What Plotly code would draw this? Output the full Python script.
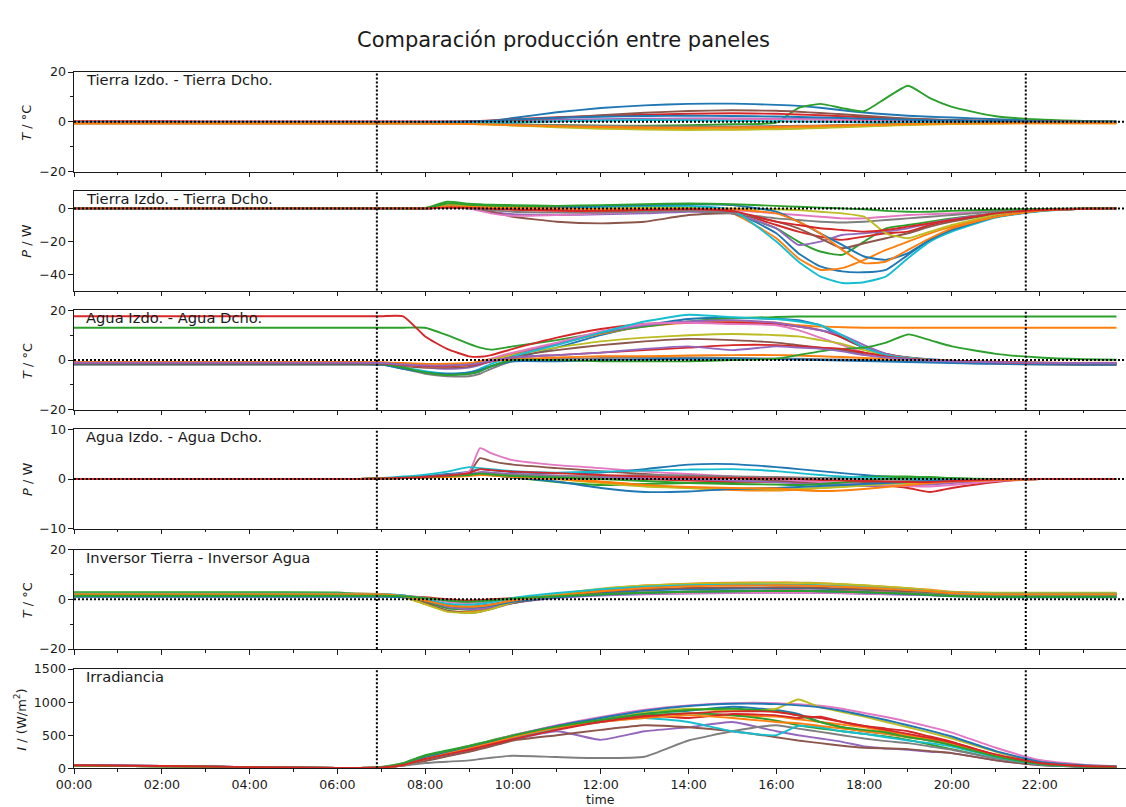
import plotly.graph_objects as go

# Sample times (HH:MM) shared by every series
TIME = ["00:00", "02:00", "04:00", "06:00", "06:30",
        "07:00", "07:30", "08:00", "08:30", "09:00", "09:15", "09:30", "10:00",
        "11:00", "12:00", "13:00", "14:00", "15:00",
        "16:00", "16:30", "17:00", "17:30", "18:00", "18:30", "19:00", "19:30", "20:00",
        "21:00", "22:00", "23:00", "23:45"]

SUNRISE = "06:54"
SUNSET = "21:41"

# Tierra Izdo. - Tierra Dcho. : temperature difference (°C), one list per day
TIERRA_T = [
    [-0.3, -0.3, -0.4, -0.4, -0.4, -0.4, -0.3, -0.2, -0.1, 0.0, 0.1, 0.3, 1.5, 3.8, 5.5, 6.6, 7.2, 7.3, 6.8, 6.4, 5.6, 4.6, 3.7, 3.0, 2.4, 2.0, 1.7, 1.0, 0.4, 0.1, 0.0],
    [-0.5, -0.5, -0.6, -0.6, -0.6, -0.6, -0.6, -0.6, -0.6, -0.6, -0.7, -0.8, -1.2, -1.8, -2.3, -2.7, -2.9, -3.0, -2.8, -2.6, -2.3, -2.0, -1.7, -1.4, -1.1, -0.9, -0.8, -0.6, -0.5, -0.5, -0.5],
    [-0.6, -0.6, -0.6, -0.7, -0.7, -0.7, -0.7, -0.7, -0.7, -0.7, -0.8, -0.8, -1.0, -1.3, -1.6, -1.6, -1.4, -1.0, -0.3, 5.5, 7.2, 5.5, 4.2, 9.5, 14.5, 9.5, 6.0, 2.2, 0.9, 0.3, 0.1],
    [0.2, 0.2, 0.1, 0.1, 0.1, 0.1, 0.1, 0.1, 0.1, 0.2, 0.3, 0.5, 1.0, 1.8, 2.4, 2.8, 3.2, 3.4, 3.2, 2.9, 2.6, 2.2, 1.8, 1.4, 1.0, 0.8, 0.6, 0.3, 0.1, 0.0, 0.0],
    [-0.2, -0.2, -0.2, -0.3, -0.3, -0.3, -0.3, -0.3, -0.3, -0.2, -0.1, 0.0, 0.4, 0.8, 1.0, 1.2, 1.3, 1.3, 1.2, 1.1, 1.0, 0.9, 0.8, 0.6, 0.5, 0.4, 0.3, 0.1, 0.0, -0.1, -0.1],
    [-0.4, -0.4, -0.4, -0.4, -0.4, -0.4, -0.4, -0.3, -0.3, -0.2, 0.0, 0.1, 0.6, 1.5, 2.6, 3.6, 4.3, 4.6, 4.4, 4.0, 3.5, 3.0, 2.4, 1.8, 1.3, 1.0, 0.7, 0.4, 0.2, 0.0, -0.1],
    [-0.8, -0.8, -0.8, -0.8, -0.8, -0.8, -0.8, -0.8, -0.8, -0.8, -0.7, -0.6, -0.3, 0.2, 0.5, 0.8, 1.0, 1.1, 1.0, 0.9, 0.8, 0.7, 0.6, 0.5, 0.4, 0.3, 0.2, 0.0, -0.2, -0.4, -0.5],
    [-0.5, -0.5, -0.5, -0.6, -0.6, -0.6, -0.6, -0.6, -0.6, -0.7, -0.8, -0.9, -1.1, -1.4, -1.6, -1.8, -1.9, -1.9, -1.7, -1.6, -1.5, -1.3, -1.1, -0.9, -0.8, -0.7, -0.6, -0.5, -0.5, -0.5, -0.5],
    [-0.7, -0.7, -0.7, -0.7, -0.7, -0.7, -0.7, -0.7, -0.8, -0.9, -1.0, -1.1, -1.5, -2.2, -2.8, -3.1, -3.3, -3.2, -3.0, -2.8, -2.5, -2.2, -1.9, -1.6, -1.3, -1.1, -0.9, -0.7, -0.6, -0.6, -0.6],
    [-0.3, -0.3, -0.3, -0.3, -0.3, -0.3, -0.3, -0.3, -0.3, -0.3, -0.3, -0.3, -0.2, 0.2, 0.5, 0.7, 0.6, 0.4, 0.2, 0.1, 0.0, -0.1, -0.2, -0.2, -0.3, -0.3, -0.3, -0.3, -0.3, -0.3, -0.3],
    [-0.1, -0.1, -0.1, -0.1, -0.1, -0.1, -0.1, -0.1, 0.0, 0.1, 0.2, 0.4, 0.9, 1.6, 2.0, 2.3, 2.4, 2.3, 2.1, 1.9, 1.7, 1.5, 1.2, 1.0, 0.8, 0.6, 0.5, 0.3, 0.1, 0.0, 0.0],
    [-0.6, -0.6, -0.6, -0.6, -0.6, -0.6, -0.6, -0.7, -0.8, -0.9, -1.0, -1.1, -1.4, -1.8, -2.1, -2.3, -2.4, -2.3, -2.1, -1.9, -1.7, -1.5, -1.3, -1.1, -0.9, -0.8, -0.7, -0.6, -0.6, -0.6, -0.6],
]

# Tierra Izdo. - Tierra Dcho. : power difference (W)
TIERRA_P = [
    [0, 0, 0, 0, 0, 0, 0, 0, 1.5, 1.2, 1.0, 0.8, 0.5, 0.3, 0.2, 0.0, -0.5, -2.0, -15, -27, -35, -38, -38.5, -37, -28, -19, -13, -5, -1.5, -0.3, 0],
    [0, 0, 0, 0, 0, 0, 0, 0, 2.0, 1.8, 1.5, 1.2, 1.0, 0.5, 0.3, 0.0, -0.5, -3.0, -18, -30, -37, -36, -31, -25, -20, -15, -11, -4.5, -1.5, -0.3, 0],
    [0, 0, 0, 0, 0, 0, 0, 0.2, 4.0, 2.8, 2.5, 2.2, 2.0, 1.5, 1.2, 1.0, 0.5, -3.0, -12, -20, -26, -28, -20, -12, -10, -8, -6, -3, -1, -0.2, 0],
    [0, 0, 0, 0, 0, 0, 0, 0, 0.8, 0.5, 0.2, 0.0, -0.5, -1.0, -1.5, -1.5, -1.2, -2.0, -10, -14, -17, -19, -17, -15, -14, -10, -7, -3, -1, -0.2, 0],
    [0, 0, 0, 0, 0, 0, 0, 0, 0.5, 0.0, -1.0, -2.0, -3.5, -4.0, -3.5, -3.0, -2.0, -3.0, -12, -22, -20, -16, -15, -14, -12, -9, -6.5, -3, -1, -0.2, 0],
    [0, 0, 0, 0, 0, 0, 0, 0, 0.5, 0.0, -1.0, -2.0, -5.0, -8.0, -9.0, -8.0, -4.0, -3.0, -8, -12, -18, -24, -21, -18, -15, -11, -8, -3.5, -1, -0.2, 0],
    [0, 0, 0, 0, 0, 0, 0, 0, 1.0, 0.0, -1.5, -3.0, -4.5, -4.0, -3.0, -2.0, -1.0, -1.0, -3, -4, -5, -6, -6, -5, -4, -3.5, -3, -1.5, -0.5, -0.1, 0],
    [0, 0, 0, 0, 0, 0, 0, 0, 0.5, 0.0, -0.5, -1.0, -2.0, -2.5, -2.5, -2.0, -1.5, -3.0, -6, -7, -8, -8.5, -8, -7, -6, -5, -4, -2, -0.7, -0.1, 0],
    [0, 0, 0, 0, 0, 0, 0, 0, 1.5, 1.2, 1.0, 0.8, 0.6, 0.4, 0.3, 0.3, 0.2, 0.0, -0.5, -1, -2, -3, -5, -15, -18, -14, -10, -4, -1.2, -0.2, 0],
    [0, 0, 0, 0, 0, 0, 0, 0, 1.0, 0.8, 0.6, 0.5, 0.3, 0.5, 1.0, 1.5, 1.5, -1.0, -20, -32, -41, -45, -44.5, -41, -30, -20, -14, -5.5, -1.8, -0.3, 0],
    [0, 0, 0, 0, 0, 0, 0, 0, 1.0, 0.8, 0.6, 0.5, 0.4, 0.8, 1.5, 2.0, 2.5, 2.0, -2, -8, -15, -22, -29, -31, -27, -19, -13, -5, -1.5, -0.3, 0],
    [0, 0, 0, 0, 0, 0, 0, 0, 1.2, 1.0, 0.8, 0.6, 0.3, 0.0, -0.5, -0.5, -0.3, -0.5, -3, -8, -15, -25, -33, -32, -25, -18, -12, -5, -1.5, -0.3, 0],
    [0, 0, 0, 0, 0, 0, 0, 0, 3.0, 2.2, 2.0, 1.8, 1.5, 1.5, 2.0, 2.5, 3.0, 2.5, 1.5, 1.0, 0.5, 0, -0.5, -1.5, -2, -2, -1.5, -0.8, -0.3, 0, 0],
    [0, 0, 0, 0, 0, 0, 0, 0, 0.5, 0.3, 0.0, -0.3, -0.8, -1.5, -1.5, -1.0, -0.5, -1.5, -8, -10, -12, -13, -14, -13, -11, -9, -7, -3, -1, -0.2, 0],
]

# Agua Izdo. - Agua Dcho. : temperature difference (°C)
AGUA_T = [
    [-1.5, -1.5, -1.5, -1.5, -1.5, -1.6, -3.0, -5.0, -6.0, -5.5, -4.5, -2.5, 0.5, 5.0, 10.0, 14.0, 16.5, 17.0, 16.5, 16.0, 14.0, 9.0, 5.0, 2.5, 1.0, 0.3, -0.3, -0.8, -1.1, -1.3, -1.4],
    [-1.0, -1.0, -1.0, -1.0, -1.0, -1.1, -1.5, -2.0, -2.0, -1.5, -0.5, 0.5, 2.5, 6.5, 10.5, 13.5, 15.0, 15.5, 15.0, 14.0, 13.5, 13.2, 13.0, 13.0, 13.0, 13.0, 13.0, 13.0, 13.0, 13.0, 13.0],
    [13.0, 13.0, 13.0, 13.0, 13.0, 13.0, 13.0, 13.0, 10.0, 6.5, 5.0, 4.2, 5.5, 8.0, 11.0, 13.5, 15.5, 16.8, 17.3, 17.5, 17.5, 17.5, 17.5, 17.5, 17.5, 17.5, 17.5, 17.5, 17.5, 17.5, 17.5],
    [17.6, 17.6, 17.6, 17.6, 17.6, 17.6, 17.6, 9.5, 4.5, 1.5, 1.3, 2.0, 4.5, 9.0, 12.5, 14.5, 15.0, 15.0, 14.5, 13.5, 12.0, 9.0, 5.0, 2.5, 1.0, 0.0, -0.5, -1.0, -1.3, -1.5, -1.5],
    [-1.2, -1.2, -1.2, -1.2, -1.2, -1.3, -2.0, -3.0, -3.5, -3.0, -2.0, -0.5, 2.0, 6.5, 11.0, 14.0, 15.5, 16.0, 15.0, 13.5, 12.0, 10.0, 6.0, 2.5, 0.8, 0.0, -0.5, -1.0, -1.2, -1.3, -1.3],
    [-1.8, -1.8, -1.8, -1.8, -1.8, -1.9, -2.5, -3.0, -3.0, -2.5, -1.5, -0.5, 1.5, 4.0, 6.0, 7.5, 8.5, 8.0, 7.0, 6.0, 5.0, 4.0, 2.5, 1.5, 0.5, 0.0, -0.5, -1.2, -1.6, -1.8, -1.8],
    [-1.0, -1.0, -1.0, -1.0, -1.0, -1.1, -2.0, -2.5, -2.5, -2.0, -1.0, 0.5, 3.0, 7.0, 11.5, 14.5, 15.0, 14.5, 14.0, 12.0, 9.0, 6.0, 3.0, 1.0, 0.2, -0.3, -0.6, -1.0, -1.2, -1.3, -1.3],
    [-1.5, -1.5, -1.5, -1.5, -1.5, -1.7, -3.5, -5.5, -6.5, -6.5, -5.5, -3.5, -0.5, 0.5, 0.8, 1.0, 1.0, 0.8, 0.6, 0.5, 0.3, 0.2, 0.0, -0.2, -0.5, -0.7, -1.0, -1.5, -1.8, -2.0, -2.0],
    [-1.3, -1.3, -1.3, -1.3, -1.3, -1.4, -2.0, -2.5, -2.5, -2.0, -1.0, 0.0, 2.0, 5.0, 7.5, 9.0, 10.0, 10.5, 10.0, 9.5, 8.0, 6.5, 4.0, 2.0, 0.8, 0.0, -0.5, -1.0, -1.3, -1.4, -1.4],
    [-1.6, -1.6, -1.6, -1.6, -1.6, -1.7, -3.0, -4.5, -5.5, -5.0, -3.5, -1.5, 1.5, 6.0, 11.0, 15.5, 18.2, 17.2, 16.5, 15.5, 14.0, 10.0, 5.0, 2.0, 0.8, 0.0, -0.5, -1.0, -1.3, -1.5, -1.5],
    [-1.7, -1.7, -1.7, -1.7, -1.7, -1.8, -3.5, -5.0, -5.5, -5.0, -4.0, -2.5, -0.5, -0.5, 0.0, 0.3, 0.5, 0.5, 0.3, 0.2, 0.0, -0.2, -0.4, -0.6, -0.8, -1.0, -1.2, -1.5, -1.7, -1.8, -1.8],
    [-0.8, -0.8, -0.8, -0.8, -0.8, -0.9, -1.2, -1.5, -1.5, -1.2, -0.8, -0.3, 0.3, 1.0, 1.5, 1.5, 1.8, 2.0, 2.0, 1.8, 1.5, 1.2, 0.8, 0.5, 0.2, 0.0, -0.3, -0.7, -1.0, -1.1, -1.1],
    [-1.4, -1.4, -1.4, -1.4, -1.4, -1.5, -3.0, -5.0, -6.0, -5.5, -4.5, -2.5, 0.0, 0.0, -0.5, -0.5, -0.5, 0.0, 0.5, 2.0, 3.5, 4.5, 5.0, 7.0, 10.3, 8.0, 5.5, 2.5, 1.0, 0.3, 0.1],
    [-1.3, -1.3, -1.3, -1.3, -1.3, -1.4, -2.0, -2.5, -2.5, -2.0, -1.5, -0.5, 1.0, 2.0, 3.0, 4.0, 5.0, 6.0, 6.0, 5.5, 5.0, 4.5, 3.0, 1.5, 0.5, 0.0, -0.4, -0.9, -1.2, -1.3, -1.3],
    [-1.1, -1.1, -1.1, -1.1, -1.1, -1.2, -1.8, -2.2, -2.2, -1.8, -1.2, -0.3, 1.0, 2.0, 3.0, 4.5, 5.5, 4.0, 5.5, 5.0, 4.5, 3.5, 2.0, 1.0, 0.3, -0.2, -0.5, -0.9, -1.1, -1.2, -1.2],
]

# Agua Izdo. - Agua Dcho. : power difference (W)
AGUA_P = [
    [0, 0, 0, 0, 0, 0.1, 0.3, 0.6, 1.0, 1.5, 2.0, 1.8, 1.4, 1.2, 1.3, 2.0, 2.9, 3.0, 2.4, 2.0, 1.6, 1.2, 0.8, 0.5, 0.3, 0.1, 0.0, -0.1, 0, 0, 0],
    [0, 0, 0, 0, 0, 0.1, 0.2, 0.4, 0.6, 0.9, 1.2, 1.0, 0.6, 0.2, -0.5, -1.2, -1.8, -2.2, -2.3, -2.1, -1.8, -1.5, -1.2, -0.9, -0.7, -0.5, -0.4, -0.2, 0, 0, 0],
    [0, 0, 0, 0, 0, 0.1, 0.2, 0.3, 0.5, 0.8, 1.0, 0.8, 0.3, -0.6, -1.2, -1.0, -0.8, -0.6, -0.4, -0.2, 0.0, 0.2, 0.4, 0.5, 0.5, 0.3, 0.1, 0, 0, 0, 0],
    [0, 0, 0, 0, 0, 0.1, 0.2, 0.4, 0.6, 0.9, 1.2, 1.1, 0.9, 0.6, 0.3, 0.0, -0.3, -0.5, -0.6, -0.7, -0.8, -0.9, -1.0, -1.3, -1.8, -2.6, -1.8, -0.6, 0, 0, 0],
    [0, 0, 0, 0, 0, 0.1, 0.2, 0.4, 0.7, 1.0, 1.4, 1.3, 1.0, 0.7, 0.4, 0.2, 0.0, -0.3, -0.6, -0.9, -1.1, -1.3, -1.4, -1.4, -1.3, -1.1, -0.8, -0.3, 0, 0, 0],
    [0, 0, 0, 0, 0, 0.1, 0.3, 0.5, 0.8, 1.3, 4.2, 3.6, 2.9, 2.2, 1.6, 1.0, 0.5, 0.2, -0.3, -0.5, -0.7, -0.8, -0.8, -0.7, -0.6, -0.5, -0.3, -0.1, 0, 0, 0],
    [0, 0, 0, 0, 0, 0.1, 0.3, 0.5, 0.8, 1.5, 6.2, 5.2, 3.8, 2.8, 2.2, 1.5, 1.0, 0.5, 0.0, -0.3, -0.6, -0.8, -1.0, -1.2, -1.4, -1.5, -1.2, -0.4, 0, 0, 0],
    [0, 0, 0, 0, 0, 0.1, 0.2, 0.4, 0.6, 0.9, 1.2, 1.0, 0.8, 0.5, 0.6, 0.8, 0.7, 0.5, 0.4, 0.3, 0.2, 0.1, 0.0, -0.1, -0.2, -0.2, -0.2, -0.1, 0, 0, 0],
    [0, 0, 0, 0, 0, 0.1, 0.2, 0.3, 0.5, 0.7, 0.9, 0.8, 0.5, 0.0, -0.8, -1.5, -1.8, -2.0, -2.1, -2.0, -1.8, -1.6, -1.3, -1.0, -0.8, -0.6, -0.4, -0.2, 0, 0, 0],
    [0, 0, 0, 0, 0, 0.2, 0.5, 0.9, 1.5, 2.4, 2.2, 2.0, 1.6, 1.3, 1.5, 1.7, 1.9, 2.0, 1.6, 1.2, 0.8, 0.5, 0.3, 0.1, 0.0, -0.1, -0.1, 0, 0, 0, 0],
    [0, 0, 0, 0, 0, 0.1, 0.3, 0.5, 0.8, 1.0, 1.0, 0.8, 0.3, -0.5, -1.8, -2.6, -2.5, -2.0, -1.8, -1.6, -1.4, -1.2, -1.0, -0.8, -0.6, -0.4, -0.2, 0, 0, 0, 0],
    [0, 0, 0, 0, 0, 0.1, 0.2, 0.3, 0.4, 0.6, 0.8, 0.7, 0.4, 0.0, -0.6, -1.2, -1.6, -1.8, -1.9, -2.2, -2.4, -2.3, -2.0, -1.6, -1.2, -0.8, -0.5, -0.2, 0, 0, 0],
    [0, 0, 0, 0, 0, 0.1, 0.2, 0.4, 0.6, 0.8, 1.1, 0.9, 0.6, 0.3, 0.0, -0.4, -0.8, -1.0, -1.1, -1.2, -1.0, -0.7, -0.3, 0.0, 0.3, 0.4, 0.2, 0, 0, 0, 0],
    [0, 0, 0, 0, 0, 0.1, 0.2, 0.4, 0.7, 1.2, 2.0, 1.8, 1.5, 1.2, 0.8, 0.5, 0.3, 0.2, 0.1, 0.0, -0.2, -0.3, -0.4, -0.5, -0.6, -0.6, -0.4, -0.1, 0, 0, 0],
]

# Inversor Tierra - Inversor Agua : temperature difference (°C)
INVERSOR_T = [
    [1.5, 1.5, 1.5, 1.5, 1.5, 1.5, 1.0, -1.0, -3.5, -4.0, -3.5, -3.0, -1.5, 1.0, 2.5, 3.5, 4.0, 4.2, 4.3, 4.3, 4.2, 4.0, 3.8, 3.5, 3.2, 2.8, 2.0, 1.5, 1.4, 1.4, 1.4],
    [2.5, 2.5, 2.5, 2.4, 2.3, 2.0, 1.0, -2.0, -4.8, -5.0, -4.5, -3.5, -1.0, 2.0, 4.0, 5.5, 6.3, 6.7, 6.8, 6.7, 6.5, 6.0, 5.5, 5.0, 4.4, 3.8, 3.0, 2.5, 2.4, 2.4, 2.4],
    [2.8, 2.8, 2.8, 2.7, 2.0, 1.8, 1.2, -1.0, -3.5, -4.2, -3.8, -3.0, -1.0, 1.5, 3.5, 4.8, 5.5, 5.8, 5.8, 5.7, 5.5, 5.0, 4.5, 4.0, 3.5, 3.0, 2.5, 2.2, 2.2, 2.2, 2.2],
    [1.2, 1.2, 1.2, 1.2, 1.2, 1.2, 1.1, 0.8, 0.0, -0.5, -0.3, 0.0, 0.5, 1.2, 2.0, 2.6, 3.0, 3.3, 3.5, 3.5, 3.4, 3.2, 3.0, 2.7, 2.4, 2.0, 1.5, 1.0, 1.0, 1.0, 1.0],
    [1.6, 1.6, 1.6, 1.6, 1.6, 1.6, 1.0, -0.5, -3.0, -4.0, -3.8, -3.2, -1.5, 0.5, 1.5, 2.0, 2.3, 2.5, 2.6, 2.6, 2.5, 2.4, 2.2, 2.0, 1.8, 1.6, 1.4, 1.3, 1.3, 1.3, 1.3],
    [2.0, 2.0, 2.0, 2.0, 2.0, 1.9, 1.0, -1.5, -4.5, -5.5, -5.0, -4.0, -1.5, 1.0, 3.0, 4.0, 4.5, 4.7, 4.8, 4.8, 4.6, 4.3, 4.0, 3.6, 3.2, 2.8, 2.2, 1.8, 1.8, 1.8, 1.8],
    [1.8, 1.8, 1.8, 1.8, 1.8, 1.8, 1.5, 0.5, -1.0, -1.5, -1.2, -0.8, 0.0, 1.0, 1.8, 2.2, 2.5, 2.6, 2.7, 2.7, 2.6, 2.5, 2.3, 2.1, 1.9, 1.7, 1.5, 1.3, 1.3, 1.3, 1.3],
    [2.0, 2.0, 2.0, 2.0, 2.0, 2.0, 1.5, 0.0, -2.5, -3.0, -2.5, -2.0, -0.5, 1.0, 2.0, 2.7, 3.0, 3.2, 3.3, 3.3, 3.2, 3.0, 2.8, 2.6, 2.4, 2.2, 1.8, 1.6, 1.6, 1.6, 1.6],
    [2.2, 2.2, 2.2, 2.2, 2.1, 2.0, 1.0, -2.0, -5.0, -5.5, -5.0, -4.0, -1.2, 2.0, 4.2, 5.5, 6.2, 6.5, 6.6, 6.6, 6.4, 6.0, 5.6, 5.0, 4.4, 3.6, 2.8, 2.6, 2.6, 2.6, 2.6],
    [2.2, 2.2, 2.2, 2.2, 2.2, 2.1, 1.5, 0.0, -1.8, -2.2, -1.8, -1.2, 0.5, 2.5, 4.0, 5.0, 5.6, 5.8, 5.8, 5.7, 5.5, 5.2, 4.8, 4.3, 3.8, 3.2, 2.6, 2.2, 2.2, 2.2, 2.2],
    [1.0, 1.0, 1.0, 1.0, 1.0, 1.0, 0.8, -0.5, -2.5, -3.2, -3.0, -2.5, -1.0, 0.8, 1.8, 2.5, 3.0, 3.2, 3.3, 3.3, 3.2, 3.0, 2.7, 2.4, 2.0, 1.7, 1.2, 0.8, 0.8, 0.8, 0.8],
    [2.0, 2.0, 2.0, 2.0, 2.0, 2.0, 1.2, -0.5, -2.5, -3.0, -2.8, -2.2, -0.5, 1.5, 3.2, 4.5, 5.2, 5.5, 5.6, 5.5, 5.3, 5.0, 4.6, 4.2, 3.7, 3.2, 2.5, 2.0, 2.0, 2.0, 2.0],
    [1.4, 1.4, 1.4, 1.4, 1.4, 1.4, 1.2, 0.5, -0.5, -1.0, -0.8, -0.5, 0.3, 1.2, 2.0, 2.6, 3.0, 3.2, 3.3, 3.3, 3.2, 3.0, 2.8, 2.5, 2.2, 1.8, 1.3, 1.0, 1.0, 1.0, 1.0],
]

# Irradiancia (W/m²)
IRRADIANCIA = [
    [45, 35, 18, 5, 5, 12, 55, 150, 230, 310, 350, 390, 480, 640, 760, 830, 870, 930, 880, 820, 700, 620, 560, 520, 480, 420, 360, 180, 60, 30, 25],
    [40, 30, 15, 5, 5, 12, 55, 150, 225, 300, 345, 385, 470, 620, 720, 790, 830, 800, 780, 740, 700, 660, 620, 560, 500, 440, 380, 200, 70, 30, 25],
    [40, 30, 15, 5, 5, 20, 80, 200, 270, 340, 380, 420, 500, 640, 740, 800, 830, 800, 720, 650, 600, 560, 520, 480, 430, 360, 290, 150, 60, 25, 15],
    [50, 35, 18, 5, 5, 12, 50, 140, 210, 290, 330, 370, 460, 600, 720, 800, 760, 820, 800, 760, 780, 700, 640, 600, 560, 480, 400, 200, 70, 30, 25],
    [40, 30, 15, 5, 5, 12, 45, 120, 190, 260, 300, 340, 430, 560, 430, 560, 620, 700, 560, 500, 450, 400, 330, 300, 280, 250, 230, 120, 50, 25, 20],
    [40, 30, 15, 5, 5, 10, 40, 110, 180, 250, 290, 330, 420, 500, 580, 650, 620, 560, 470, 420, 380, 340, 310, 300, 290, 260, 230, 120, 50, 25, 20],
    [45, 35, 18, 5, 5, 15, 70, 175, 250, 330, 370, 415, 500, 650, 775, 885, 950, 985, 985, 970, 945, 900, 835, 775, 705, 625, 540, 310, 125, 55, 30],
    [40, 30, 15, 5, 5, 10, 40, 80, 100, 120, 140, 160, 190, 170, 155, 175, 420, 560, 650, 600, 550, 500, 450, 410, 380, 330, 280, 150, 60, 25, 20],
    [40, 30, 15, 5, 5, 15, 60, 160, 240, 320, 360, 400, 490, 630, 750, 850, 900, 870, 900, 1040, 920, 850, 780, 700, 620, 540, 450, 250, 90, 40, 25],
    [40, 30, 15, 5, 5, 12, 50, 140, 210, 290, 330, 370, 460, 600, 700, 760, 700, 560, 500, 640, 620, 560, 520, 470, 420, 380, 330, 170, 60, 25, 20],
    [45, 35, 18, 5, 5, 14, 60, 165, 240, 320, 360, 400, 490, 640, 760, 870, 940, 975, 970, 950, 920, 870, 800, 730, 650, 570, 480, 260, 100, 45, 28],
    [40, 30, 15, 5, 5, 12, 50, 140, 220, 300, 340, 380, 470, 610, 700, 760, 800, 760, 700, 680, 640, 600, 560, 520, 470, 420, 360, 190, 70, 30, 22],
    [40, 30, 15, 5, 5, 18, 75, 190, 260, 335, 375, 415, 495, 630, 730, 820, 880, 900, 860, 800, 700, 620, 580, 540, 470, 420, 350, 180, 65, 28, 20],
    [45, 35, 18, 5, 5, 12, 50, 140, 210, 280, 320, 360, 440, 580, 700, 780, 830, 860, 850, 800, 760, 700, 640, 580, 520, 460, 390, 210, 80, 35, 25],
]

TAB10 = ["#1f77b4", "#ff7f0e", "#2ca02c", "#d62728", "#9467bd",
         "#8c564b", "#e377c2", "#7f7f7f", "#bcbd22", "#17becf"]

DAY = "2021-06-21 "
FONT = "DejaVu Sans"
INK = "#1a1a1a"

W, H = 1126, 807
LEFT = 74
PLOT_W = W - LEFT
PANEL_TOP = [72, 191, 310.3, 429.3, 549.5, 669]
PANEL_H = 99.5


def py(px):
    """Pixel row -> paper fraction (margins top/bottom are zero)."""
    return 1 - px / H


def pxx(px):
    """Pixel column -> paper fraction."""
    return (px - LEFT) / PLOT_W


PANELS = [
    dict(data=TIERRA_T, name="Tierra Izdo. - Tierra Dcho.", ylab="<i>T</i> / °C",
         rng=[-20, 20], ticks=[-20, 0, 20], minor=[-10, 10], zero=True, ylx=27),
    dict(data=TIERRA_P, name="Tierra Izdo. - Tierra Dcho.", ylab="<i>P</i> / W",
         rng=[-49.5, 10.5], ticks=[-40, -20, 0], minor=[], zero=True, ylx=27),
    dict(data=AGUA_T, name="Agua Izdo. - Agua Dcho.", ylab="<i>T</i> / °C",
         rng=[-20, 20], ticks=[-20, 0, 20], minor=[-10, 10], zero=True, ylx=27),
    dict(data=AGUA_P, name="Agua Izdo. - Agua Dcho.", ylab="<i>P</i> / W",
         rng=[-10, 10], ticks=[-10, 0, 10], minor=[], zero=True, ylx=27),
    dict(data=INVERSOR_T, name="Inversor Tierra - Inversor Agua", ylab="<i>T</i> / °C",
         rng=[-20, 20], ticks=[-20, 0, 20], minor=[-10, 10], zero=True, ylx=27),
    dict(data=IRRADIANCIA, name="Irradiancia", ylab="<i>I</i> / (W/m<sup>2</sup>)",
         rng=[0, 1500], ticks=[0, 500, 1000, 1500], minor=[], zero=False, ylx=20),
]

for p in PANELS:
    for s in p["data"]:
        if len(s) != len(TIME):
            raise ValueError(f"{p['name']}: series of length {len(s)}")


def fmt(v):
    return f"{v:g}".replace("-", "\u2212")


x = [DAY + t for t in TIME]
fig = go.Figure()
layout = dict(
    width=W, height=H,
    margin=dict(l=LEFT, r=0, t=0, b=0, autoexpand=False),
    plot_bgcolor="white", paper_bgcolor="white",
    showlegend=False, hovermode=False,
    font=dict(family=FONT, size=12.6, color=INK),
)
shapes, annotations = [], []
n = len(PANELS)

for k, p in enumerate(PANELS):
    xa = "x" if k == 0 else f"x{k + 1}"
    ya = "y" if k == 0 else f"y{k + 1}"
    xkey = "xaxis" if k == 0 else f"xaxis{k + 1}"
    ykey = "yaxis" if k == 0 else f"yaxis{k + 1}"
    top = PANEL_TOP[k]
    bottom = 768.3 if k == n - 1 else top + PANEL_H

    for i, s in enumerate(p["data"]):
        fig.add_trace(go.Scatter(
            x=x, y=s, mode="lines", xaxis=xa, yaxis=ya,
            line=dict(color=TAB10[i % 10], width=1.9, shape="spline", smoothing=0.5),
            hoverinfo="skip"))

    layout[xkey] = dict(
        type="date", anchor=ya, domain=[0, 1],
        range=[DAY + "00:00", DAY + "23:58"],
        matches=None if k == 0 else "x",
        tick0=DAY + "00:00", dtick=2 * 3600 * 1000, tickformat="%H:%M",
        ticks="outside", ticklen=4.5, tickwidth=1, tickcolor=INK,
        showticklabels=(k == n - 1), automargin=False,
        tickfont=dict(family=FONT, size=12.6, color=INK),
        minor=dict(dtick=3600 * 1000, tick0=DAY + "00:00", ticks="outside",
                   ticklen=2.5, tickwidth=1, tickcolor=INK, showgrid=False),
        showline=True, linecolor=INK, linewidth=1.1, mirror=True,
        showgrid=False, zeroline=False,
    )
    yax = dict(
        anchor=xa, domain=[py(bottom), py(top)], range=p["rng"],
        tickmode="array", tickvals=p["ticks"], automargin=False,
        ticktext=[fmt(v) for v in p["ticks"]],
        ticks="outside", ticklen=4.5, tickwidth=1, tickcolor=INK,
        tickfont=dict(family=FONT, size=12.6, color=INK),
        showline=True, linecolor=INK, linewidth=1.1, mirror=False,
        showgrid=False, zeroline=False,
    )
    if p["minor"]:
        yax["minor"] = dict(tickmode="array", tickvals=p["minor"], ticks="outside",
                            ticklen=2.5, tickwidth=1, tickcolor=INK, showgrid=False)
    layout[ykey] = yax

    for t in (SUNRISE, SUNSET):
        shapes.append(dict(type="line", xref=xa, yref=f"{ya} domain",
                           x0=DAY + t, x1=DAY + t, y0=0, y1=1, layer="above",
                           line=dict(color="black", width=2, dash="2px,2px")))
    if p["zero"]:
        shapes.append(dict(type="line", xref=f"{xa} domain", yref=ya,
                           x0=0, x1=1, y0=0, y1=0, layer="above",
                           line=dict(color="black", width=2, dash="2px,2px")))

    annotations.append(dict(text=p["name"], xref="paper", yref="paper",
                            x=pxx(84), y=py(top + 7.5), xanchor="left", yanchor="middle",
                            showarrow=False, font=dict(family=FONT, size=14.7, color=INK)))
    annotations.append(dict(text=p["ylab"], xref="paper", yref="paper",
                            x=pxx(p["ylx"]), y=py((top + bottom) / 2 + 1),
                            xanchor="center", yanchor="middle", textangle=-90,
                            showarrow=False, font=dict(family=FONT, size=13, color=INK)))

annotations.append(dict(text="Comparación producción entre paneles", xref="paper", yref="paper",
                        x=pxx(W / 2), y=py(40), xanchor="center", yanchor="middle",
                        showarrow=False, font=dict(family=FONT, size=21, color=INK)))
annotations.append(dict(text="time", xref="paper", yref="paper",
                        x=pxx(600), y=py(799), xanchor="center", yanchor="middle",
                        showarrow=False, font=dict(family=FONT, size=12.6, color=INK)))

layout["shapes"] = shapes
layout["annotations"] = annotations
fig.update_layout(**layout)
fig.write_html("out.html")
